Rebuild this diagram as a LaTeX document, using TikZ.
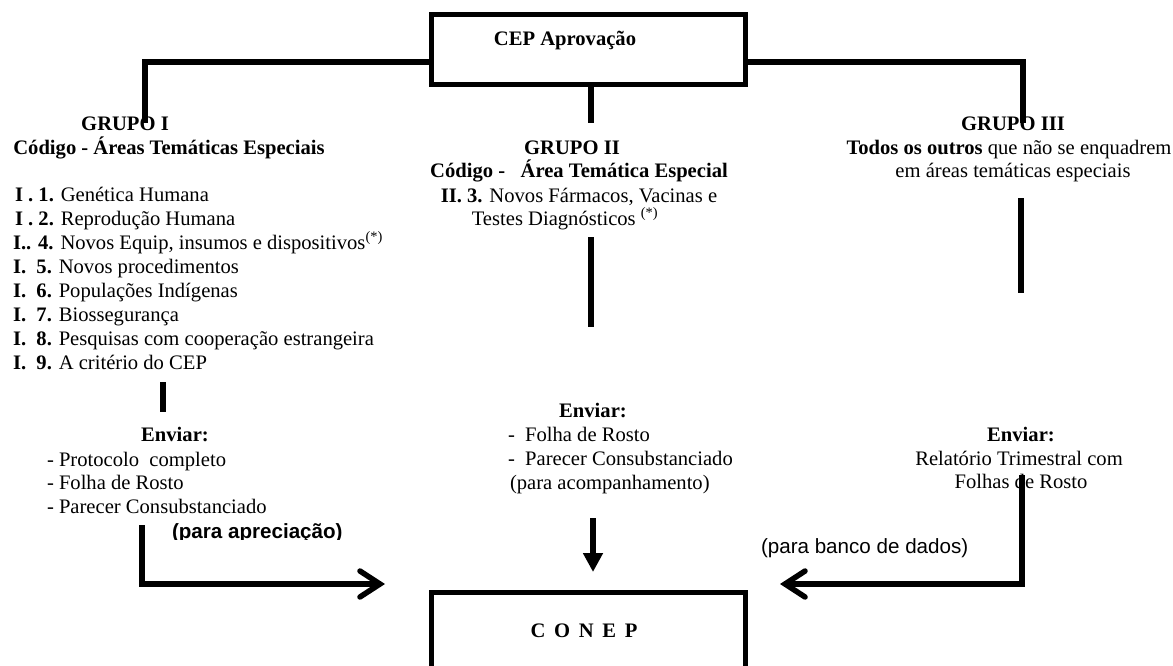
\documentclass[tikz,border=0pt]{standalone}
\usepackage{fontspec}
\setmainfont{Liberation Serif}
\newfontfamily\arialfont{Liberation Sans}
\usetikzlibrary{arrows.meta}
\begin{document}
\begin{tikzpicture}[x=1pt,y=-1pt,
  every node/.style={inner sep=0pt, outer sep=0pt},
  txt/.style={font=\fontsize{20.6}{24}\selectfont},
  btxt/.style={font=\fontsize{20.6}{24}\selectfont\bfseries},
  atxt/.style={font=\arialfont\fontsize{20.6}{24}\selectfont},
  abtxt/.style={font=\arialfont\fontsize{20.6}{24}\selectfont\bfseries},
  frame/.style={draw, line width=5pt, minimum width=314pt, minimum height=70pt},
  conn/.style={line width=5.5pt},
  chev/.style={line width=5.5pt, -{Straight Barb[length=20pt,width=26pt,line cap=round]}},
  tri/.style={line width=5.5pt, -{Triangle[length=19pt,width=19pt]}}
]
\useasboundingbox (0,0) rectangle (1173,666);
\clip (0,0) rectangle (1173,666);

% boxes
\node[frame] (cep) at (588.5,49.5) {};
\node[btxt, anchor=base] (ceptxt) at (565,46) {CEP Aprovação};
\node[frame, minimum height=140pt, anchor=north] (conep) at (588.5,592) {};
\node[btxt, anchor=base] (conept) at (584,637) {C\hspace{8.7pt}O\hspace{8.7pt}N\hspace{8.7pt}E\hspace{8.7pt}P};

% group I
\node[btxt, anchor=base] (g1) at (125,131) {GRUPO I};
\node[btxt, anchor=base] (g1c) at (169,155) {Código - Áreas Temáticas Especiais};
\node[txt, anchor=base west] (i1) at (15,201) {\textbf{I . 1.} Genética Humana};
\node[txt, anchor=base west] (i2) at (15,225) {\textbf{I . 2.} Reprodução Humana};
\node[txt, anchor=base west] (i4) at (13,249) {\textbf{I.. 4.} Novos Equip, insumos e dispositivos\textsuperscript{(*)}};
\node[txt, anchor=base west] (i5) at (13,273) {\textbf{I.\ \ 5.} Novos procedimentos};
\node[txt, anchor=base west] (i6) at (13,297) {\textbf{I.\ \ 6.} Populações Indígenas};
\node[txt, anchor=base west] (i7) at (13,321) {\textbf{I.\ \ 7.} Biossegurança};
\node[txt, anchor=base west] (i8) at (13,345) {\textbf{I.\ \ 8.} Pesquisas com cooperação estrangeira};
\node[txt, anchor=base west] (i9) at (13,369) {\textbf{I.\ \ 9.} A critério do CEP};

\node[btxt, anchor=base] (e1) at (175,441) {Enviar:};
\node[txt, anchor=base west] (e1a) at (47,466) {- Protocolo\ \ completo};
\node[txt, anchor=base west] (e1b) at (47,489.5) {- Folha de Rosto};
\node[txt, anchor=base west] (e1c) at (47,513) {- Parecer Consubstanciado};
\begin{scope}
  \clip (150,515) rectangle (370,539.5);
  \node[abtxt, anchor=base west] (pa) at (172,538) {(para apreciação)};
\end{scope}

% group II
\node[btxt, anchor=base] (g2) at (572,154) {GRUPO II};
\node[btxt, anchor=base] (g2c) at (579,178) {Código -\ \ \ Área Temática Especial};
\node[txt, anchor=base] (g2d) at (579,202) {\textbf{II. 3.} Novos Fármacos, Vacinas e};
\node[txt, anchor=base] (g2e) at (565,225) {Testes Diagnósticos \textsuperscript{(*)}};

\node[btxt, anchor=base] (e2) at (593,417) {Enviar:};
\node[txt, anchor=base west] (e2a) at (508,441) {-\ \ Folha de Rosto};
\node[txt, anchor=base west] (e2b) at (508,465) {-\ \ Parecer Consubstanciado};
\node[txt, anchor=base west] (e2c) at (510,489) {(para acompanhamento)};

% group III
\node[btxt, anchor=base] (g3) at (1013,131) {GRUPO III};
\node[txt, anchor=base east] (g3a) at (1171.5,155) {\textbf{Todos os outros} que não se enquadrem};
\node[txt, anchor=base] (g3b) at (1013,178) {em áreas temáticas especiais};

\node[btxt, anchor=base] (e3) at (1021,441) {Enviar:};
\node[txt, anchor=base] (e3a) at (1019,465) {Relatório Trimestral com};
\node[txt, anchor=base] (e3b) at (1021,488) {Folhas de Rosto};
\node[atxt, anchor=base west] (pb) at (761,553) {(para banco de dados)};

% coordinates
\coordinate (lj) at (145,62);
\coordinate (g1top) at (145,123);
\coordinate (rj) at (1023,62);
\coordinate (g3top) at (1023,123);
\coordinate (c1) at (591,123);
\coordinate (c2a) at (591,237);
\coordinate (c2b) at (591,327);
\coordinate (r2a) at (1021,198);
\coordinate (r2b) at (1021,293);
\coordinate (v1a) at (163,382);
\coordinate (v1b) at (163,412);
\coordinate (la1) at (142,525);
\coordinate (la2) at (142,584);
\coordinate (la3) at (385,584);
\coordinate (ra1) at (1022,475);
\coordinate (ra2) at (1022,584);
\coordinate (ra3) at (780,584);
\coordinate (da) at (593,518);
\coordinate (db) at (593,572);

% connectors
\draw[conn] (cep.west |- lj) -- (lj) -- (g1top);
\draw[conn] (cep.east |- rj) -- (rj) -- (g3top);
\draw[conn] (cep.south -| c1) -- (c1);
\draw[conn] (c2a) -- (c2b);
\draw[conn] (r2a) -- (r2b);
\draw[conn] (v1a) -- (v1b);
\draw[chev] (la1) -- (la2) -- (la3);
\draw[chev] (ra1) -- (ra2) -- (ra3);
\draw[tri] (da) -- (db);
\end{tikzpicture}
\end{document}
